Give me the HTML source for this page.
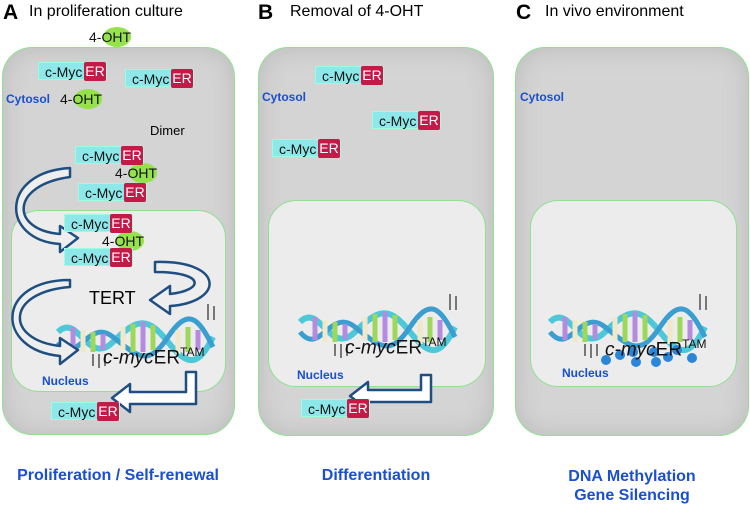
<!DOCTYPE html>
<html><head><style>
body{margin:0;width:750px;height:506px;background:#fff;position:relative;overflow:hidden;font-family:"Liberation Sans",sans-serif}
.a{position:absolute}
.box{position:absolute;border:1.5px solid #8fe08f;border-radius:30px;background:#d4d4d4;box-shadow:inset 0 0 25px #bbb}
.nuc{position:absolute;border:1.5px solid #8fe08f;border-radius:28px;background:#ececec}
.m{position:absolute;height:18px;font-size:14px;line-height:18px;background:#8ee8ea;border:1px solid #9fd;padding-left:6px;width:69px;box-sizing:border-box;color:#111;z-index:3}
.m b{position:absolute;right:0;top:-1px;height:19px;width:22px;background:#c41a48;color:#fff;font-weight:normal;text-align:center;border-radius:2px}
.o{position:absolute;font-size:14px;color:#111;z-index:2}
.o i{position:absolute;left:14px;top:-2px;width:28px;height:20px;border-radius:50%;background:#95e24a;z-index:-1}
.bl{position:absolute;color:#1a4fd0;font-size:12px;font-weight:bold}
.t{position:absolute;color:#1a4fd0;font-weight:bold;font-size:16px;text-align:center}
.g{position:absolute;font-style:italic;font-size:19px;color:#111;z-index:2}
.g span{font-style:normal}
.g sup{font-style:normal;font-size:12px}
</style></head><body>
<div class="a" style="left:3px;top:1px;font-size:21px;font-weight:bold">A</div>
<div class="a" style="left:29px;top:3px;font-size:16px">In proliferation culture</div>
<div class="a" style="left:258px;top:1px;font-size:21px;font-weight:bold">B</div>
<div class="a" style="left:290px;top:3px;font-size:16px">Removal of 4-OHT</div>
<div class="a" style="left:516px;top:1px;font-size:21px;font-weight:bold">C</div>
<div class="a" style="left:545px;top:3px;font-size:16px">In vivo environment</div>

<div class="box" style="left:2px;top:47px;width:231px;height:386px"></div>
<div class="nuc" style="left:11px;top:210px;width:213px;height:180px"></div>
<div class="box" style="left:258px;top:47px;width:234px;height:387px"></div>
<div class="nuc" style="left:268px;top:200px;width:216px;height:185px"></div>
<div class="box" style="left:515px;top:47px;width:232px;height:387px"></div>
<div class="nuc" style="left:530px;top:200px;width:205px;height:185px"></div>

<svg class="a" style="left:0;top:0;z-index:1" width="750" height="506">
<defs><g id="dna">
<path d="M0 10 C20 -10 30 45 55 20 S90 -5 110 20 S140 45 155 15" fill="none" stroke="#4cc8d8" stroke-width="6"/>
<path d="M0 20 C20 45 30 -5 55 15 S90 45 110 15 S140 -5 155 25" fill="none" stroke="#3a9fd0" stroke-width="5"/>
<g stroke-width="5">
<line x1="15" y1="5" x2="15" y2="28" stroke="#b58be0"/><line x1="25" y1="8" x2="25" y2="30" stroke="#f0e8c8"/><line x1="35" y1="10" x2="35" y2="30" stroke="#9ed85a"/><line x1="45" y1="12" x2="45" y2="28" stroke="#b58be0"/><line x1="65" y1="5" x2="65" y2="28" stroke="#f0e8c8"/><line x1="75" y1="2" x2="75" y2="30" stroke="#9ed85a"/><line x1="85" y1="0" x2="85" y2="30" stroke="#b58be0"/><line x1="95" y1="3" x2="95" y2="28" stroke="#9ed85a"/><line x1="120" y1="8" x2="120" y2="32" stroke="#f0e8c8"/><line x1="130" y1="5" x2="130" y2="30" stroke="#9ed85a"/><line x1="140" y1="8" x2="140" y2="28" stroke="#b58be0"/></g>
<g stroke="#777" stroke-width="2"><line x1="35" y1="32" x2="35" y2="44"/><line x1="41" y1="32" x2="41" y2="46"/><line x1="47" y1="32" x2="47" y2="44"/><line x1="150" y1="-18" x2="150" y2="-2"/><line x1="156" y1="-16" x2="156" y2="-2"/></g>
</g></defs>
<use href="#dna" x="58" y="322"/>
<use href="#dna" x="300" y="312"/>
<use href="#dna" x="550" y="312"/>
<g fill="#fff" stroke="#1f4e80" stroke-width="2.5" stroke-linejoin="round">
<path d="M70 177 C10 185 10 230 60 234 L60 226 L78 238 L60 252 L60 244 C0 240 0 172 70 168 Z" fill="#eee"/>
<path d="M155 262 C225 260 225 302 170 306 L170 314 L150 300 L170 286 L170 294 C205 290 205 272 155 272 Z" fill="#eee"/>
<path d="M70 287 C5 292 5 340 60 346 L60 338 L78 350 L60 364 L60 356 C-5 350 -5 280 70 280 Z" fill="#eee"/>
<path d="M186 372 L196 372 L196 404 L130 404 L130 412 L112 398 L130 384 L130 392 L186 392 Z"/>
<path d="M421 375 L431 375 L431 402 L368 402 L368 410 L350 396 L368 382 L368 390 L421 390 Z"/>
</g>
<g fill="#2a86d8"><circle cx="606" cy="360" r="5"/><circle cx="620" cy="355" r="5"/><circle cx="633" cy="352" r="5"/><circle cx="636" cy="362" r="5"/><circle cx="654" cy="352" r="5"/><circle cx="656" cy="362" r="5"/><circle cx="668" cy="357" r="5"/><circle cx="677" cy="350" r="5"/><circle cx="692" cy="358" r="5"/></g>
</svg>

<div class="g" style="left:103px;top:345px">c-myc<span>ER</span><sup>TAM</sup></div>
<div class="g" style="left:345px;top:335px">c-myc<span>ER</span><sup>TAM</sup></div>
<div class="g" style="left:605px;top:337px">c-myc<span>ER</span><sup>TAM</sup></div>

<div class="m" style="left:38px;top:62px">c-Myc<b>ER</b></div>
<div class="m" style="left:125px;top:69px">c-Myc<b>ER</b></div>
<div class="m" style="left:75px;top:146px">c-Myc<b>ER</b></div>
<div class="m" style="left:78px;top:183px">c-Myc<b>ER</b></div>
<div class="m" style="left:64px;top:214px">c-Myc<b>ER</b></div>
<div class="m" style="left:64px;top:248px">c-Myc<b>ER</b></div>
<div class="m" style="left:51px;top:402px">c-Myc<b>ER</b></div>
<div class="m" style="left:315px;top:66px">c-Myc<b>ER</b></div>
<div class="m" style="left:372px;top:111px">c-Myc<b>ER</b></div>
<div class="m" style="left:272px;top:139px">c-Myc<b>ER</b></div>
<div class="m" style="left:301px;top:399px">c-Myc<b>ER</b></div>

<div class="o" style="left:89px;top:29px"><i></i>4-OHT</div>
<div class="o" style="left:60px;top:91px"><i></i>4-OHT</div>
<div class="o" style="left:115px;top:165px"><i></i>4-OHT</div>
<div class="o" style="left:102px;top:233px"><i></i>4-OHT</div>
<div class="a" style="left:150px;top:123px;font-size:13px">Dimer</div>
<div class="a" style="left:89px;top:288px;font-size:18px;z-index:2">TERT</div>

<div class="bl" style="left:6px;top:92px">Cytosol</div>
<div class="bl" style="left:262px;top:90px">Cytosol</div>
<div class="bl" style="left:520px;top:90px">Cytosol</div>
<div class="bl" style="left:42px;top:374px;z-index:2">Nucleus</div>
<div class="bl" style="left:297px;top:368px;z-index:2">Nucleus</div>
<div class="bl" style="left:562px;top:366px;z-index:2">Nucleus</div>

<div class="t" style="left:0;width:236px;top:467px">Proliferation / Self-renewal</div>
<div class="t" style="left:258px;width:236px;top:467px">Differentiation</div>
<div class="t" style="left:516px;width:232px;top:467px;line-height:19px">DNA Methylation<br>Gene Silencing</div>
</body></html>
